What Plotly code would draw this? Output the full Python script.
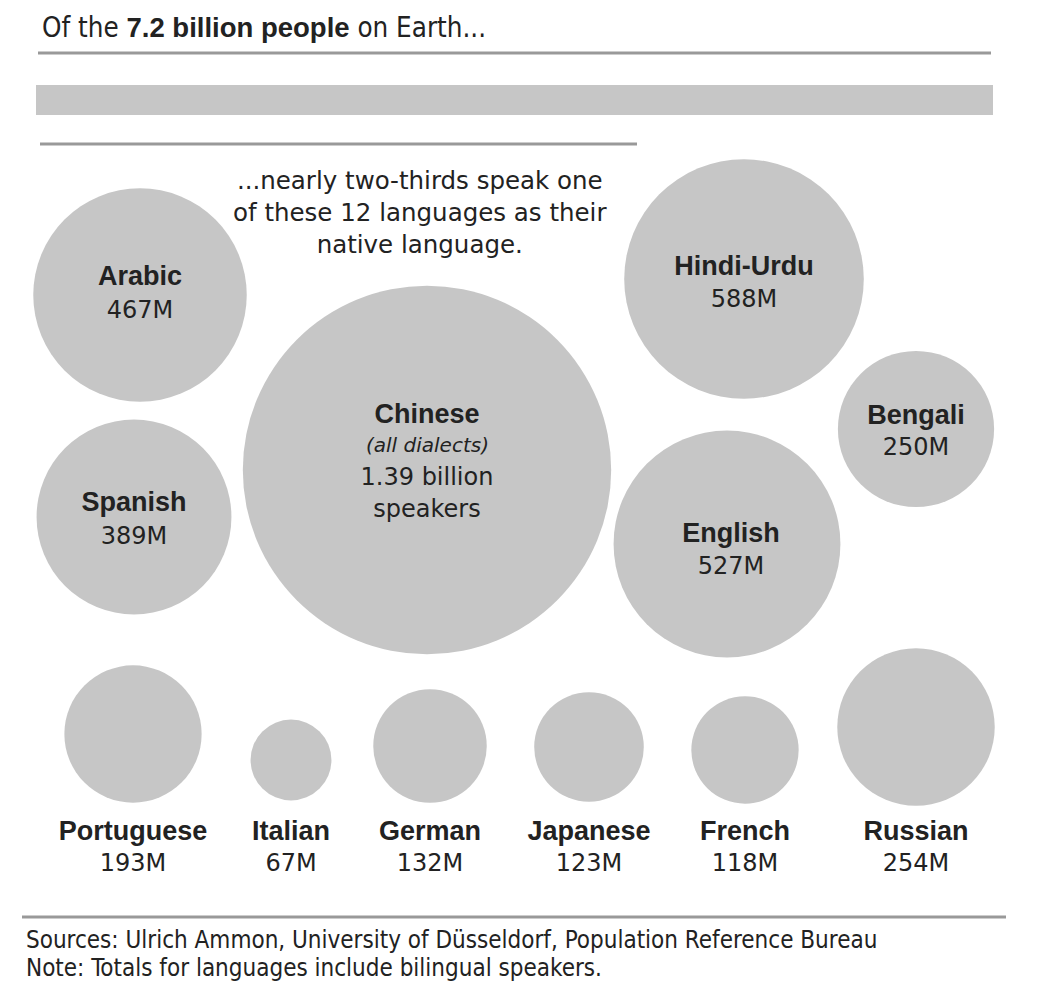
import math
import plotly.graph_objects as go

# ---- data ----
languages = ["Arabic", "Hindi-Urdu", "Chinese", "Spanish", "Bengali", "English",
             "Portuguese", "Italian", "German", "Japanese", "French", "Russian"]
speakers_m = [467, 588, 1390, 389, 250, 527, 193, 67, 132, 123, 118, 254]
value_labels = ["467M", "588M", "1.39 billion<br>speakers", "389M", "250M", "527M",
                "193M", "67M", "132M", "123M", "118M", "254M"]

title_regular_1 = "Of the "
title_bold = "7.2 billion people"
title_regular_2 = " on Earth..."
subtitle_text = "...nearly two-thirds speak one<br>of these 12 languages as their<br>native language."
source_text = "Sources: Ulrich Ammon, University of Düsseldorf, Population Reference Bureau"
note_text = "Note: Totals for languages include bilingual speakers."

# ---- layout (pixel positions of bubble centres and labels) ----
cx = [140, 744, 427, 134, 916, 727, 133, 291, 430, 589, 745, 916]
cy = [295, 279, 470, 517, 429, 544, 734, 760, 746, 747, 750, 727]
name_x = [140, 744, 427, 134, 916, 731, 133, 291, 430, 589, 745, 916]
name_y = [278, 268, 416, 504, 417, 535, 833, 833, 833, 833, 833, 833]
val_y = [312, 301, 495, 538, 449, 568, 865, 865, 865, 865, 865, 865]

K = 4.94  # radius px per sqrt(million)
diam = [2 * K * math.sqrt(v) for v in speakers_m]

W, H = 1054, 983
OFF = 8  # page body margin
fig = go.Figure()

fig.add_trace(go.Scatter(
    x=cx, y=cy, mode="markers",
    marker=dict(size=diam, sizemode="diameter", color="#c6c6c6", line=dict(width=0), opacity=1),
    hoverinfo="skip", showlegend=False))

fig.add_trace(go.Scatter(
    x=name_x, y=name_y, mode="text", text=["<b>%s</b>" % n for n in languages],
    textfont=dict(family="Liberation Sans, Arial, sans-serif", size=27, color="#222222"),
    textposition="middle center", hoverinfo="skip", showlegend=False))

fig.add_trace(go.Scatter(
    x=name_x, y=val_y, mode="text", text=value_labels,
    textfont=dict(family="DejaVu Sans, Verdana, sans-serif", size=24, color="#222222"),
    textposition="middle center", hoverinfo="skip", showlegend=False))

# "(all dialects)" sub-label for Chinese
fig.add_annotation(x=427, y=445, xref="x", yref="y", text="<i>(all dialects)</i>",
                   showarrow=False, font=dict(family="DejaVu Sans, Verdana, sans-serif", size=20, color="#222222"))

# header / footer text
title_html = (title_regular_1 +
              "<span style='font-family:Liberation Sans, Arial, sans-serif'><b>" + title_bold + "</b></span>" +
              title_regular_2)
fig.add_annotation(x=40, y=27, xref="x", yref="y", text=title_html, showarrow=False,
                   xanchor="left", yanchor="middle",
                   font=dict(family="DejaVu Sans Condensed, DejaVu Sans, sans-serif", size=27.5, color="#222222"))
fig.add_annotation(x=420, y=212, xref="x", yref="y", text=subtitle_text, showarrow=False,
                   xanchor="center", yanchor="middle", align="center",
                   font=dict(family="DejaVu Sans, Verdana, sans-serif", size=24.5, color="#222222"))
fig.add_annotation(x=24, y=940, xref="x", yref="y", text=source_text, showarrow=False,
                   xanchor="left", yanchor="middle",
                   font=dict(family="DejaVu Sans Condensed, DejaVu Sans, sans-serif", size=24, color="#222222"))
fig.add_annotation(x=24, y=968, xref="x", yref="y", text=note_text, showarrow=False,
                   xanchor="left", yanchor="middle",
                   font=dict(family="DejaVu Sans Condensed, DejaVu Sans, sans-serif", size=24, color="#222222"))

# rules and band
fig.add_shape(type="line", x0=38, x1=991, y0=53, y1=53, xref="x", yref="y", line=dict(color="#999999", width=3))
fig.add_shape(type="rect", x0=36, x1=993, y0=85, y1=115, xref="x", yref="y", line=dict(width=0), fillcolor="#c6c6c6")
fig.add_shape(type="line", x0=40, x1=637, y0=144, y1=144, xref="x", yref="y", line=dict(color="#999999", width=3))
fig.add_shape(type="line", x0=22, x1=1006, y0=917, y1=917, xref="x", yref="y", line=dict(color="#999999", width=3))

fig.update_layout(
    width=W - OFF, height=H - OFF, margin=dict(l=0, r=0, t=0, b=0),
    paper_bgcolor="white", plot_bgcolor="white",
    xaxis=dict(range=[OFF, W], visible=False, fixedrange=True),
    yaxis=dict(range=[H, OFF], visible=False, fixedrange=True),
)

fig.write_html("out.html")
